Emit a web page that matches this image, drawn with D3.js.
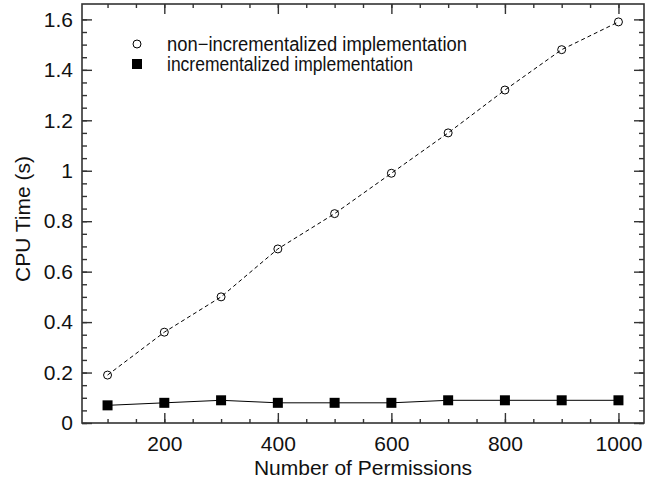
<!DOCTYPE html>
<html>
<head>
<meta charset="utf-8">
<script src="https://cdn.jsdelivr.net/npm/d3@7"></script>
<style>
  body { margin: 0; background: #fff; }
  text { font-family: "Liberation Sans", Arial, sans-serif; fill: #111; }
  .axis text { font-size: 21px; }
  .axis line { stroke: #333; stroke-width: 1.4; }
</style>
</head>
<body>
<svg id="chart"></svg>
<script>
var permissions = [100, 200, 300, 400, 500, 600, 700, 800, 900, 1000];
var nonIncremental = [0.19, 0.36, 0.50, 0.69, 0.83, 0.99, 1.15, 1.32, 1.48, 1.59];
var incremental = [0.07, 0.08, 0.09, 0.08, 0.08, 0.08, 0.09, 0.09, 0.09, 0.09];
var seriesNames = ["non\u2212incrementalized implementation", "incrementalized implementation"];

var xTicks = [200, 400, 600, 800, 1000];
var xTickLabels = ["200", "400", "600", "800", "1000"];
var xMinorTicks = d3.range(100, 1001, 50);
var yTicks = [0, 0.2, 0.4, 0.6, 0.8, 1, 1.2, 1.4, 1.6];
var yTickLabels = ["0", "0.2", "0.4", "0.6", "0.8", "1", "1.2", "1.4", "1.6"];
var yMinorTicks = d3.range(0, 1.65, 0.05);

var W = 657, H = 483;
var margin = {top: 4, right: 13, bottom: 60, left: 82};
var width = W - margin.left - margin.right;
var height = H - margin.top - margin.bottom;

var svg = d3.select('#chart')
    .attr('width', W)
    .attr('height', H)
    .append('g')
    .attr('transform', "translate(" + margin.left + "," + margin.top + ")");

var x = d3.scaleLinear().domain([55, 1045]).range([0, width]);
var y = d3.scaleLinear().domain([0, 1.661]).range([height, 0]);

// minor ticks on all four sides
svg.append("g").attr("class", "axis").attr("transform", "translate(0," + height + ")")
    .call(d3.axisBottom(x).tickValues(xMinorTicks).tickSize(-4).tickFormat(""));
svg.append("g").attr("class", "axis")
    .call(d3.axisTop(x).tickValues(xMinorTicks).tickSize(-4).tickFormat(""));
svg.append("g").attr("class", "axis")
    .call(d3.axisLeft(y).tickValues(yMinorTicks).tickSize(-5).tickFormat(""));
svg.append("g").attr("class", "axis").attr("transform", "translate(" + width + ",0)")
    .call(d3.axisRight(y).tickValues(yMinorTicks).tickSize(-5).tickFormat(""));

// major ticks
svg.append("g").attr("class", "axis").attr("transform", "translate(0," + height + ")")
    .call(d3.axisBottom(x).tickValues(xTicks).tickSize(-10).tickPadding(13)
        .tickFormat(function(d, i) { return xTickLabels[i]; }));
svg.append("g").attr("class", "axis")
    .call(d3.axisTop(x).tickValues(xTicks).tickSize(-10).tickFormat(""));
svg.append("g").attr("class", "axis")
    .call(d3.axisLeft(y).tickValues(yTicks).tickSize(-10).tickPadding(9)
        .tickFormat(function(d, i) { return yTickLabels[i]; }));
svg.append("g").attr("class", "axis").attr("transform", "translate(" + width + ",0)")
    .call(d3.axisRight(y).tickValues(yTicks).tickSize(-10).tickFormat(""));

svg.selectAll(".axis .domain").remove();
svg.selectAll(".axis text").attr("fill", "#111");

svg.append("rect")
    .attr("width", width)
    .attr("height", height)
    .attr("fill", "none")
    .attr("stroke", "#333")
    .attr("stroke-width", 1.6);

var lineA = d3.line()
    .x(function(d, i) { return x(permissions[i]); })
    .y(function(d) { return y(d); });

svg.append("path")
    .datum(nonIncremental)
    .attr("fill", "none")
    .attr("stroke", "#000")
    .attr("stroke-width", 1)
    .attr("stroke-dasharray", "4,3")
    .attr("d", lineA);

svg.append("path")
    .datum(incremental)
    .attr("fill", "none")
    .attr("stroke", "#000")
    .attr("stroke-width", 1)
    .attr("d", lineA);

svg.selectAll(".circ")
    .data(nonIncremental)
    .enter()
    .append("circle")
    .attr("cx", function(d, i) { return x(permissions[i]); })
    .attr("cy", function(d) { return y(d); })
    .attr("r", 4)
    .attr("fill", "none")
    .attr("stroke", "#000")
    .attr("stroke-width", 1);

svg.selectAll(".sq")
    .data(incremental)
    .enter()
    .append("rect")
    .attr("x", function(d, i) { return x(permissions[i]) - 5; })
    .attr("y", function(d) { return y(d) - 5; })
    .attr("width", 10)
    .attr("height", 10)
    .attr("fill", "#000");

// legend
var leg = svg.append("g").attr("transform", "translate(" + (137 - margin.left) + "," + (44 - margin.top) + ")");
leg.append("circle").attr("cx", 0).attr("cy", 0).attr("r", 4)
    .attr("fill", "none").attr("stroke", "#000");
leg.append("rect").attr("x", -5).attr("y", 15).attr("width", 10).attr("height", 10).attr("fill", "#000");
leg.append("text").attr("x", 30).attr("y", 0).attr("dy", "0.35em")
    .style("font-size", "20px")
    .attr("textLength", 300).attr("lengthAdjust", "spacingAndGlyphs")
    .text(seriesNames[0]);
leg.append("text").attr("x", 30).attr("y", 20).attr("dy", "0.35em")
    .style("font-size", "20px")
    .attr("textLength", 246).attr("lengthAdjust", "spacingAndGlyphs")
    .text(seriesNames[1]);

// axis titles
svg.append("text")
    .attr("x", width / 2)
    .attr("y", height + 52)
    .attr("text-anchor", "middle")
    .style("font-size", "21px")
    .text("Number of Permissions");

svg.append("text")
    .attr("transform", "translate(" + (30 - margin.left) + "," + (219 - margin.top) + ") rotate(-90)")
    .attr("text-anchor", "middle")
    .style("font-size", "21px")
    .text("CPU Time (s)");
</script>
</body>
</html>
